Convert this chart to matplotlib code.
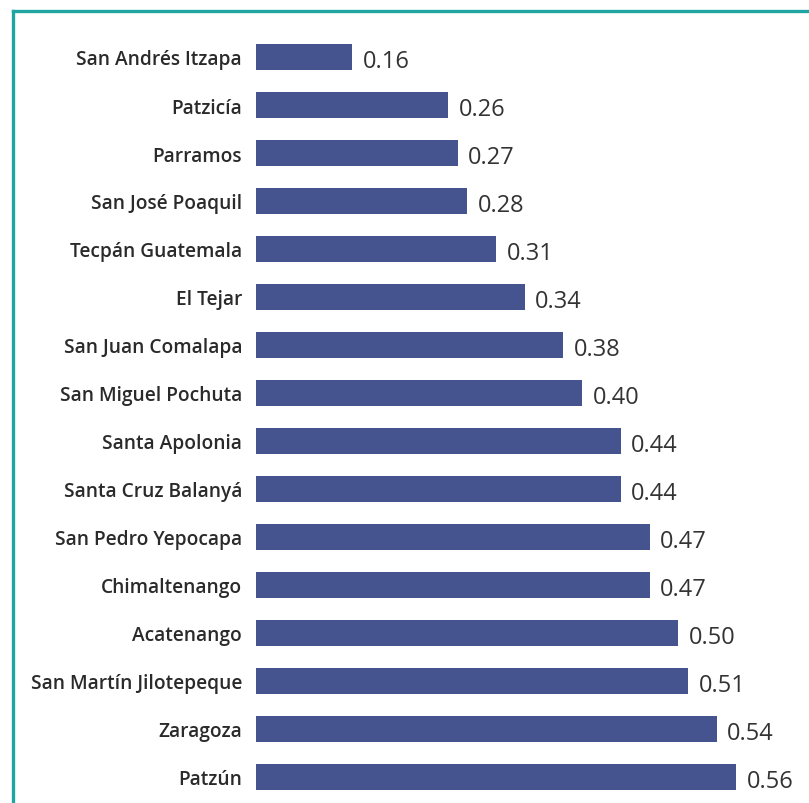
import matplotlib.pyplot as plt
from matplotlib.lines import Line2D

municipios = ["San Andrés Itzapa", "Patzicía", "Parramos", "San José Poaquil",
              "Tecpán Guatemala", "El Tejar", "San Juan Comalapa", "San Miguel Pochuta",
              "Santa Apolonia", "Santa Cruz Balanyá", "San Pedro Yepocapa", "Chimaltenango",
              "Acatenango", "San Martín Jilotepeque", "Zaragoza", "Patzún"]
valores = [0.16, 0.26, 0.27, 0.28, 0.31, 0.34, 0.38, 0.40,
           0.44, 0.44, 0.47, 0.47, 0.50, 0.51, 0.54, 0.56]

W, H = 809, 804
fig = plt.figure(figsize=(W / 100, H / 100), dpi=100)
ax = fig.add_axes([256 / W, 1 - 802 / H, (800 - 256) / W, (802 - 34) / H])

y = range(len(valores))
ax.barh(y, valores, height=0.56, color="#45548f", left=0)
ax.set_xlim(0.06, 0.06 + (800 - 256) / 960)
ax.set_ylim(len(valores) - 0.5, -0.5)

for i, v in enumerate(valores):
    ax.text(v + 0.011, i + 0.08, f"{v:.2f}", va="center", ha="left",
            fontsize=17, color="#333333", family="Open Sans")

ax.set_yticks(list(y))
ax.set_yticklabels(municipios, fontsize=13.8, color="#2a2a2a", family="Open Sans",
                   fontweight="semibold")
ax.tick_params(axis="y", length=0, pad=10)
ax.set_xticks([])
for s in ax.spines.values():
    s.set_visible(False)

# marco turquesa arriba y a la izquierda
teal = "#20a6a2"
fig.add_artist(Line2D([13 / W, 1], [1 - 12 / H, 1 - 12 / H], color=teal, lw=2.4,
                      transform=fig.transFigure))
fig.add_artist(Line2D([13 / W, 13 / W], [1 - 12 / H, 0], color=teal, lw=2.4,
                      transform=fig.transFigure))

fig.savefig("out.png", dpi=100)
